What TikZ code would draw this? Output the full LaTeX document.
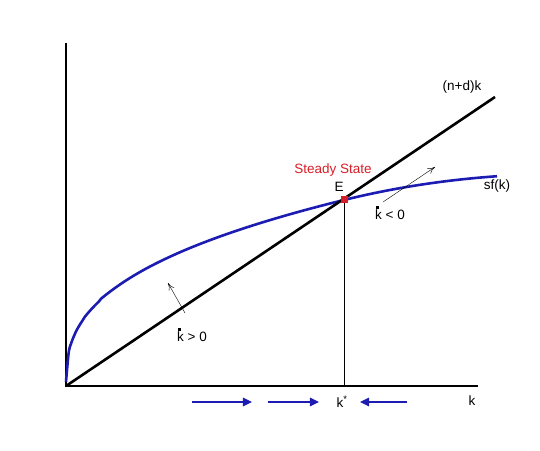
\documentclass[tikz,border=0pt]{standalone}
\usepackage{fontspec}
\setmainfont{Liberation Sans}
\usepackage{xcolor}
\usetikzlibrary{positioning,arrows.meta,calc}
\definecolor{curveblue}{RGB}{28,28,178}
\definecolor{ssred}{RGB}{215,30,40}
\newcommand{\kd}{k\llap{\raisebox{0.82em}{\rule{2.3pt}{2.3pt}}\kern0.25em}}
\tikzset{
  axis/.style  ={draw=black, line width=2.6pt},
  ray/.style   ={draw=black, line width=2.6pt},
  sfc/.style   ={draw=curveblue, line width=2.6pt},
  lbl/.style   ={font=\fontsize{13.5}{16}\selectfont, inner sep=1pt},
  tip/.style   ={-{To[length=2.6mm,width=2.2mm]}, draw=black, thin},
  dirar/.style ={-{Triangle[length=3.2mm,width=3mm]}, draw=curveblue, line width=1.2pt},
}
\begin{document}
\begin{tikzpicture}[x=1pt,y=1pt]
\useasboundingbox (0,0) rectangle (540,450);
% points
\coordinate (O) at (66,64);
\coordinate (ytop) at (66,407);
\coordinate (xend) at (478,64);
\coordinate (lend) at (495,353);
\coordinate (E) at (344,250);
\coordinate (kst) at (344,64);
% axes
\draw[axis] (ytop) -- (O) -- (xend);
% sf(k)
\draw[sfc] plot[domain=0.01:431, samples=160, smooth]
  ({66+\x}, {64+186*pow(\x/278,0.37)-(\x>278)*3.84*pow((\x-278)/100,2)});
% (n+d)k
\draw[ray] (O) -- (lend);
\draw[thin] (E) -- (kst);
\node[fill=ssred, minimum size=7pt, inner sep=0pt] (ept) at (E) {};
% labels
\node[lbl] (nd) at (462,363) {(n+d)k};
\node[lbl] (sf) at (497,264) {sf(k)};
\node[lbl, text=ssred] (ss) at (333,280) {Steady State};
\node[lbl] (elbl) at (339,263) {E};
\node[lbl] (kneg) at (390,237) {\kd{} < 0};
\node[lbl] (kpos) at (192,115) {\kd{} > 0};
\coordinate (a1) at (383,248);
\coordinate (b1) at (435,283);
\draw[tip] (a1) -- (b1);
\coordinate (a2) at (185,137);
\coordinate (b2) at (168,167);
\draw[tip] (a2) -- (b2);
% motion along k
\node[lbl] (kstar) at (342,48) {k\textsuperscript{*}};
\node[lbl] (klbl) at (472,49) {k};
\coordinate (r1) at (192,48);
\coordinate (r2) at (252,48);
\coordinate (r3) at (268,48);
\coordinate (r4) at (319,48);
\coordinate (r5) at (407,48);
\coordinate (r6) at (360,48);
\draw[dirar] (r1) -- (r2);
\draw[dirar] (r3) -- (r4);
\draw[dirar] (r5) -- (r6);
\end{tikzpicture}
\end{document}
